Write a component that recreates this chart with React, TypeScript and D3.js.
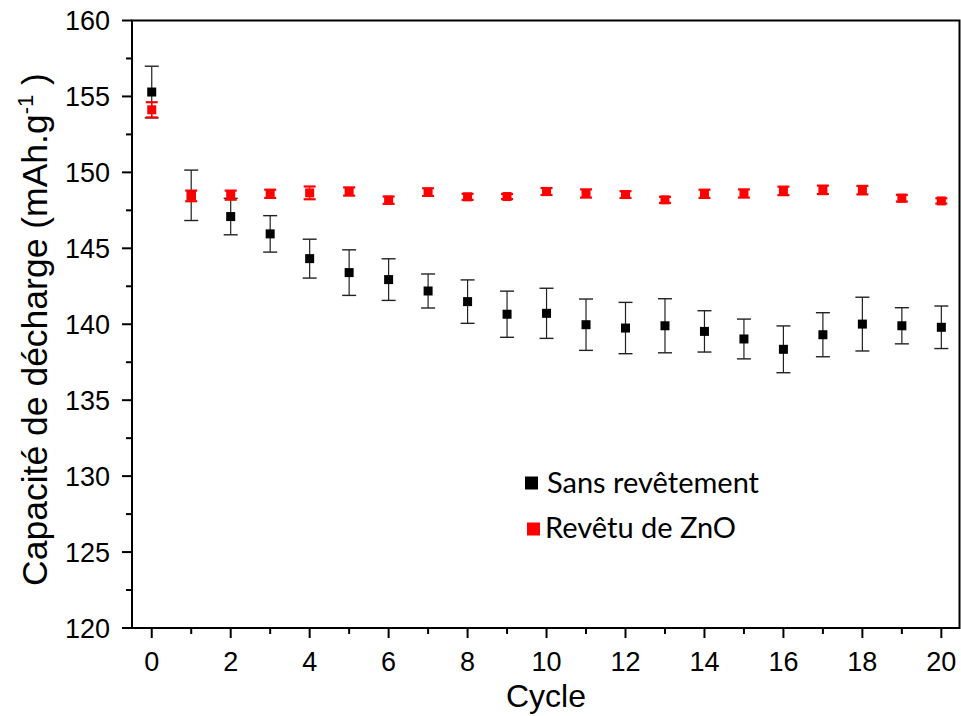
import React from "react";
import * as d3 from "d3";

const cycles = [0,1,2,3,4,5,6,7,8,9,10,11,12,13,14,15,16,17,18,19,20];
const sansValues = [155.29,148.49,147.09,145.95,144.32,143.40,142.94,142.19,141.49,140.66,140.72,139.97,139.75,139.90,139.53,139.03,138.35,139.31,140.01,139.90,139.80];
const sansErrors = [1.7,1.66,1.2,1.2,1.28,1.5,1.37,1.12,1.43,1.52,1.65,1.69,1.69,1.78,1.36,1.31,1.54,1.45,1.77,1.19,1.4];
const znoValues = [154.12,148.45,148.5,148.59,148.65,148.74,148.17,148.7,148.39,148.41,148.74,148.61,148.54,148.19,148.59,148.61,148.78,148.85,148.83,148.3,148.12];
const znoErrors = [0.5,0.35,0.3,0.27,0.42,0.27,0.24,0.25,0.2,0.17,0.23,0.27,0.22,0.2,0.27,0.27,0.28,0.28,0.28,0.22,0.17];
const xTicks = [0,2,4,6,8,10,12,14,16,18,20];
const yTicks = [120,125,130,135,140,145,150,155,160];
const seriesNames = ["Sans revêtement", "Revêtu de ZnO"];

const W = 961, H = 716;
const L = 132, R = 959.5, T = 20.5, B = 628;

export default function App() {
  const x = d3.scaleLinear().domain([-0.5, 20.46]).range([L, R]);
  const y = d3.scaleLinear().domain([120, 160]).range([B, T]);
  const xMinor = d3.range(1, 20, 2);
  const yMinor = d3.range(122.5, 160, 5);
  const axisFont = "Arial, 'Liberation Sans', sans-serif";

  const series = [
    { vals: sansValues, errs: sansErrors, color: "#000", whisker: "#222", capW: 14, capSW: 1.4, size: 9 },
    { vals: znoValues, errs: znoErrors, color: "#ff0000", whisker: "#ff0000", capW: 12, capSW: 2.2, size: 9 },
  ];

  return (
    <svg width={W} height={H} style={{ position: "absolute", left: 0, top: 0, background: "#fff" }}>
      {series.map((s, si) => (
        <g key={si}>
          {cycles.map((c, i) => {
            const cx = x(c), cy = y(s.vals[i]);
            const yt = y(s.vals[i] + s.errs[i]), yb = y(s.vals[i] - s.errs[i]);
            return (
              <g key={i}>
                <line x1={cx} x2={cx} y1={yt} y2={yb} stroke={s.whisker} strokeWidth={1.2} />
                <line x1={cx - s.capW / 2} x2={cx + s.capW / 2} y1={yt} y2={yt} stroke={s.whisker} strokeWidth={s.capSW} />
                <line x1={cx - s.capW / 2} x2={cx + s.capW / 2} y1={yb} y2={yb} stroke={s.whisker} strokeWidth={s.capSW} />
                <rect x={cx - s.size / 2} y={cy - s.size / 2} width={s.size} height={s.size} fill={s.color} />
              </g>
            );
          })}
        </g>
      ))}

      <rect x={L} y={T} width={R - L} height={B - T} fill="none" stroke="#000" strokeWidth={2} />

      {xTicks.map((t) => (
        <g key={"xt" + t}>
          <line x1={x(t)} x2={x(t)} y1={B} y2={B + 10} stroke="#000" strokeWidth={2} />
          <text x={x(t)} y={671} textAnchor="middle" fontSize={27} fontFamily={axisFont} fill="#000">{t}</text>
        </g>
      ))}
      {xMinor.map((t) => (
        <line key={"xm" + t} x1={x(t)} x2={x(t)} y1={B} y2={B + 6} stroke="#000" strokeWidth={2} />
      ))}

      {yTicks.map((t) => (
        <g key={"yt" + t}>
          <line x1={L - 10} x2={L} y1={y(t)} y2={y(t)} stroke="#000" strokeWidth={2} />
          <text x={110} y={y(t) + 9.5} textAnchor="end" fontSize={27} fontFamily={axisFont} fill="#000">{t}</text>
        </g>
      ))}
      {yMinor.map((t) => (
        <line key={"ym" + t} x1={L - 6} x2={L} y1={y(t)} y2={y(t)} stroke="#000" strokeWidth={2} />
      ))}

      <text x={546} y={707} textAnchor="middle" fontSize={32} fontFamily={axisFont} fill="#000">Cycle</text>
      <text transform={`translate(47,${(72 + 587) / 2}) rotate(-90)`} textAnchor="middle" fontSize={35.5} fontFamily={axisFont} fill="#000">
        Capacité de décharge (mAh.g<tspan dy={-14} fontSize={22}>-1</tspan><tspan dy={14}> )</tspan>
      </text>

      <rect x={525} y={476.5} width={13} height={13} fill="#000" />
      <text x={547} y={492.5} fontSize={29} fontFamily="Lato, 'Open Sans', sans-serif" fill="#000">{seriesNames[0]}</text>
      <rect x={527} y={522.5} width={13} height={13} fill="#ff0000" />
      <text x={545} y={538} fontSize={29} fontFamily="Lato, 'Open Sans', sans-serif" fill="#000">{seriesNames[1]}</text>
    </svg>
  );
}
